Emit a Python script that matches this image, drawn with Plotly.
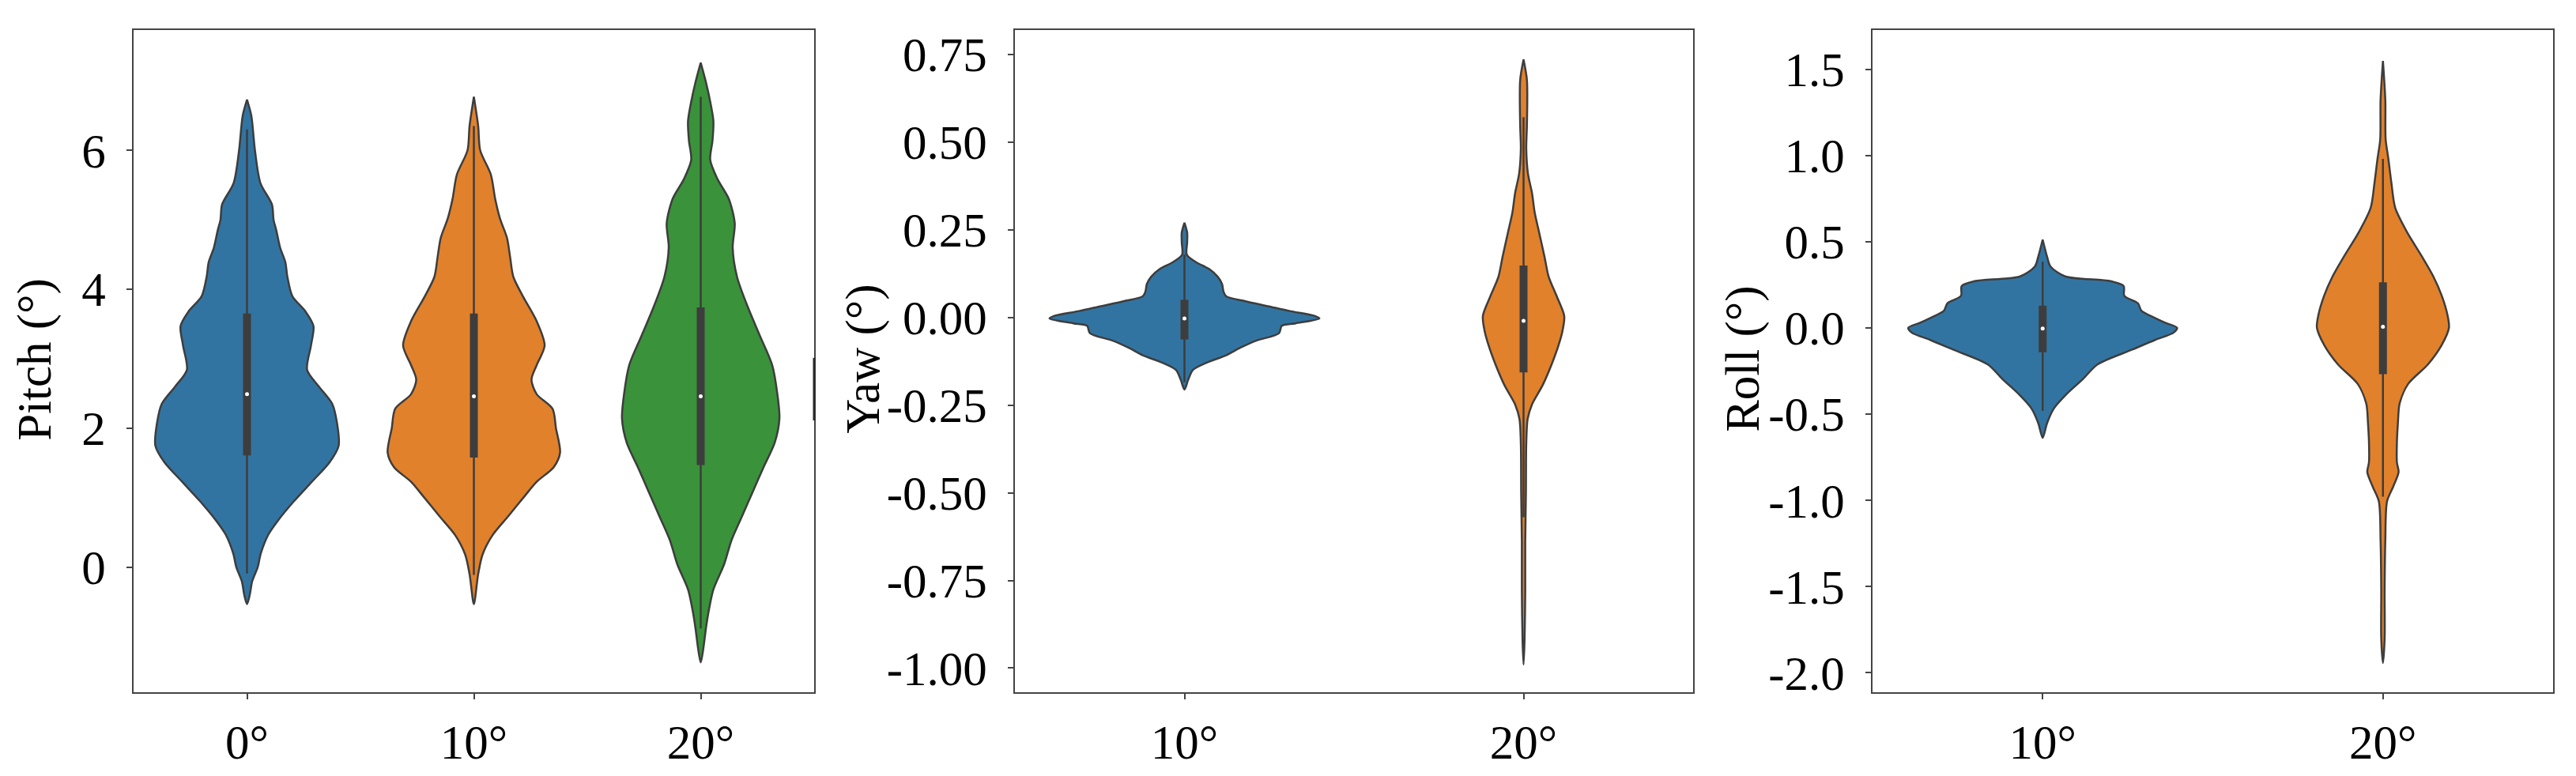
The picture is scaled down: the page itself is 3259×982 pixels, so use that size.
import plotly.graph_objects as go

# ---------------- data ----------------
# Pitch panel categories
pitch_cats = ["0°", "10°", "20°"]
pitch_ticks = [0, 2, 4, 6]
pitch_ticktext = ["0", "2", "4", "6"]

# density profiles: value levels and half-widths (category units)
pitch0_y = [-0.53, -0.4, -0.2, 0.0, 0.2, 0.47, 0.67, 0.95, 1.23, 1.51, 1.75, 2.07, 2.35, 2.6, 2.84,
            3.19, 3.47, 3.68, 3.9, 4.18, 4.39, 4.6, 4.85, 5.0, 5.22, 5.53, 6.0, 6.5, 6.73]
pitch0_w = [0.0, 0.012, 0.023, 0.047, 0.061, 0.094, 0.136, 0.207, 0.286, 0.364, 0.404, 0.397, 0.376, 0.317, 0.265,
            0.282, 0.293, 0.258, 0.2, 0.178, 0.169, 0.146, 0.129, 0.117, 0.11, 0.059, 0.035, 0.019, 0.0]

pitch10_y = [-0.53, -0.1, 0.18, 0.46, 0.74, 1.02, 1.23, 1.44, 1.65, 2.0, 2.28, 2.49, 2.7, 2.91, 3.19,
             3.54, 3.9, 4.18, 4.46, 4.74, 5.02, 5.3, 5.65, 6.0, 6.35, 6.77]
pitch10_w = [0.0, 0.019, 0.038, 0.082, 0.153, 0.223, 0.277, 0.352, 0.38, 0.362, 0.347, 0.277, 0.254, 0.277, 0.312,
             0.277, 0.216, 0.174, 0.16, 0.146, 0.115, 0.094, 0.075, 0.028, 0.019, 0.0]

pitch20_y = [-1.37, -1.16, -0.88, -0.67, -0.32, 0.04, 0.39, 0.74, 1.09, 1.44, 1.79, 2.14, 2.49, 2.91, 3.33,
             3.75, 4.18, 4.6, 4.95, 5.3, 5.58, 5.86, 6.14, 6.42, 6.7, 6.98, 7.26]
pitch20_w = [0.0, 0.012, 0.023, 0.033, 0.056, 0.103, 0.136, 0.183, 0.23, 0.277, 0.326, 0.347, 0.338, 0.315, 0.261,
             0.207, 0.16, 0.141, 0.15, 0.124, 0.075, 0.042, 0.052, 0.056, 0.042, 0.023, 0.0]

# box summaries: [whisker low, Q1, median, Q3, whisker high]
pitch_stats = [
    [-0.09, 1.61, 2.49, 3.65, 6.3],
    [-0.11, 1.58, 2.46, 3.65, 6.35],
    [-0.88, 1.47, 2.46, 3.74, 6.77],
]

# Yaw panel
yaw_cats = ["10°", "20°"]
yaw_ticks = [-1.0, -0.75, -0.5, -0.25, 0.0, 0.25, 0.5, 0.75]
yaw_ticktext = ["-1.00", "-0.75", "-0.50", "-0.25", "0.00", "0.25", "0.50", "0.75"]

yaw10_y = [-0.206, -0.178, -0.150, -0.129, -0.108, -0.087, -0.066, -0.045, -0.024, -0.017, -0.003, 0.004,
           0.018, 0.032, 0.046, 0.060, 0.074, 0.095, 0.116, 0.137, 0.158, 0.179, 0.214, 0.242, 0.270]
yaw10_w = [0.0, 0.011, 0.025, 0.066, 0.123, 0.164, 0.213, 0.279, 0.287, 0.328, 0.398, 0.385,
           0.311, 0.246, 0.18, 0.123, 0.115, 0.111, 0.098, 0.074, 0.033, 0.007, 0.008, 0.008, 0.0]

yaw20_y = [-0.99, -0.92, -0.78, -0.64, -0.5, -0.36, -0.29, -0.248, -0.192, -0.136, -0.08, -0.038, 0.004,
           0.06, 0.116, 0.172, 0.242, 0.298, 0.354, 0.41, 0.48, 0.55, 0.676, 0.735]
yaw20_w = [0.0, 0.003, 0.005, 0.005, 0.007, 0.008, 0.012, 0.025, 0.057, 0.082, 0.103, 0.115, 0.12,
           0.098, 0.074, 0.062, 0.046, 0.033, 0.025, 0.013, 0.008, 0.01, 0.01, 0.0]

yaw_stats = [
    [-0.185, -0.063, -0.003, 0.05, 0.179],
    [-0.57, -0.157, -0.01, 0.148, 0.571],
]

# Roll panel
roll_cats = ["10°", "20°"]
roll_ticks = [-2.0, -1.5, -1.0, -0.5, 0.0, 0.5, 1.0, 1.5]
roll_ticktext = ["-2.0", "-1.5", "-1.0", "-0.5", "0.0", "0.5", "1.0", "1.5"]

roll10_y = [-0.637, -0.552, -0.467, -0.382, -0.297, -0.212, -0.126, -0.070, -0.027, 0.001, 0.030, 0.058,
            0.100, 0.143, 0.186, 0.243, 0.271, 0.299, 0.356, 0.413, 0.512]
roll10_w = [0.0, 0.013, 0.033, 0.071, 0.118, 0.161, 0.263, 0.33, 0.385, 0.395, 0.36, 0.33,
            0.29, 0.28, 0.24, 0.238, 0.2, 0.066, 0.023, 0.013, 0.0]

roll20_y = [-1.943, -1.801, -1.517, -1.233, -1.006, -0.921, -0.836, -0.779, -0.666, -0.552, -0.439, -0.325,
            -0.212, -0.098, 0.001, 0.072, 0.186, 0.299, 0.413, 0.555, 0.697, 0.839, 0.98, 1.094, 1.32, 1.548]
roll20_w = [0.0, 0.005, 0.005, 0.007, 0.012, 0.03, 0.046, 0.041, 0.041, 0.044, 0.049, 0.074,
            0.132, 0.173, 0.194, 0.19, 0.173, 0.148, 0.115, 0.071, 0.036, 0.025, 0.016, 0.008, 0.007, 0.0]

roll_stats = [
    [-0.481, -0.141, -0.004, 0.129, 0.384],
    [-0.978, -0.268, 0.007, 0.265, 0.98],
]

colors = ["#3274a1", "#e1812c", "#3a923a"]
titles = ["Pitch (°)", "Yaw (°)", "Roll (°)"]

# ---------------- layout geometry ----------------
W, H = 3259, 982
x_domains = [(169, 1030), (1284, 2142), (2369, 3230)]
y_top, y_bot = 36.5, 884
title_x = [44, 1092, 2205]
title_y = 458
y_ranges = [(-1.80, 7.73), (-1.069, 0.819), (-2.113, 1.727)]

FONT = "Liberation Serif, Times New Roman, serif"
EDGE = "#3d3d3d"
FRAME = "#444444"

fig = go.Figure()

panels = [
    (pitch_cats, [(pitch0_y, pitch0_w), (pitch10_y, pitch10_w), (pitch20_y, pitch20_w)], pitch_stats,
     pitch_ticks, pitch_ticktext),
    (yaw_cats, [(yaw10_y, yaw10_w), (yaw20_y, yaw20_w)], yaw_stats, yaw_ticks, yaw_ticktext),
    (roll_cats, [(roll10_y, roll10_w), (roll20_y, roll20_w)], roll_stats, roll_ticks, roll_ticktext),
]

for p, (cats, profiles, stats, yt, ytt) in enumerate(panels):
    xa = "x" if p == 0 else f"x{p + 1}"
    ya = "y" if p == 0 else f"y{p + 1}"
    for i, ((vy, vw), st) in enumerate(zip(profiles, stats)):
        xs = [i + w for w in vw] + [i - w for w in reversed(vw)]
        ys = list(vy) + list(reversed(vy))
        fig.add_trace(go.Scatter(
            x=xs, y=ys, mode="lines", fill="toself", fillcolor=colors[i],
            line=dict(color=EDGE, width=2.5, shape="spline", smoothing=0.8),
            xaxis=xa, yaxis=ya, hoverinfo="skip", showlegend=False))
        lo, q1, med, q3, hi = st
        fig.add_trace(go.Scatter(
            x=[i, i], y=[lo, hi], mode="lines", line=dict(color=EDGE, width=2.5),
            xaxis=xa, yaxis=ya, hoverinfo="skip", showlegend=False))
        fig.add_trace(go.Scatter(
            x=[i, i], y=[q1, q3], mode="lines", line=dict(color=EDGE, width=10),
            xaxis=xa, yaxis=ya, hoverinfo="skip", showlegend=False))
        fig.add_trace(go.Scatter(
            x=[i], y=[med], mode="markers", marker=dict(color="white", size=5, line=dict(width=0)),
            xaxis=xa, yaxis=ya, hoverinfo="skip", showlegend=False))

    x0, x1 = x_domains[p]
    axis_common = dict(showline=True, linecolor=FRAME, linewidth=2, mirror=True,
                       ticks="outside", ticklen=7, tickwidth=2, tickcolor=FRAME,
                       showgrid=False, zeroline=False,
                       tickfont=dict(family=FONT, size=61, color="black"))
    xkey = "xaxis" if p == 0 else f"xaxis{p + 1}"
    ykey = "yaxis" if p == 0 else f"yaxis{p + 1}"
    fig.update_layout(**{
        xkey: dict(domain=[x0 / W, x1 / W], range=[-0.5, len(cats) - 0.5],
                   tickvals=list(range(len(cats))), ticktext=cats, anchor=ya,
                   ticklabelstandoff=2, **axis_common),
        ykey: dict(domain=[1 - y_bot / H, 1 - y_top / H], range=list(y_ranges[p]),
                   tickvals=yt, ticktext=ytt, anchor=xa, ticklabelstandoff=14, **axis_common),
    })
    fig.add_annotation(text=titles[p], xref="paper", yref="paper",
                       x=title_x[p] / W, y=1 - title_y / H, xanchor="center", yanchor="middle",
                       textangle=-90, showarrow=False,
                       font=dict(family=FONT, size=61, color="black"))

# small dark segment on the right frame of the first panel
fig.add_shape(type="line", xref="paper", yref="paper",
              x0=1030 / W, x1=1030 / W, y0=1 - 456 / H, y1=1 - 536 / H,
              line=dict(color="#2a2a2a", width=3))

fig.update_layout(width=W, height=H, margin=dict(l=0, r=0, t=0, b=0),
                  plot_bgcolor="white", paper_bgcolor="white", showlegend=False)

fig.write_html("out.html", config={"displayModeBar": False},
               post_script="document.body.style.margin='0px';")
